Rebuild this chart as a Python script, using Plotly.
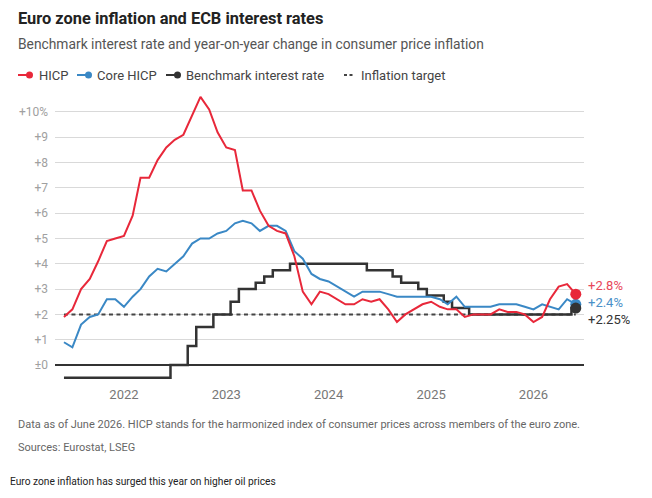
import pandas as pd
import plotly.graph_objects as go

# ---- data (monthly, June 2021 - June 2026) ----
months = pd.date_range("2021-06-01", "2026-06-01", freq="MS")

hicp = [1.9, 2.2, 3.0, 3.4, 4.1, 4.9, 5.0,
        5.1, 5.9, 7.4, 7.4, 8.1, 8.6, 8.9, 9.1, 9.9, 10.6, 10.1, 9.2,
        8.6, 8.5, 6.9, 6.9, 6.1, 5.5, 5.3, 5.2, 4.3, 2.9, 2.4, 2.9,
        2.8, 2.6, 2.4, 2.4, 2.6, 2.5, 2.6, 2.2, 1.7, 2.0, 2.2, 2.4,
        2.5, 2.3, 2.2, 2.2, 1.9, 2.0, 2.0, 2.0, 2.2, 2.1, 2.1, 2.0,
        1.7, 1.9, 2.6, 3.1, 3.2, 2.8]

core_hicp = [0.9, 0.7, 1.6, 1.9, 2.0, 2.6, 2.6,
             2.3, 2.7, 3.0, 3.5, 3.8, 3.7, 4.0, 4.3, 4.8, 5.0, 5.0, 5.2,
             5.3, 5.6, 5.7, 5.6, 5.3, 5.5, 5.5, 5.3, 4.5, 4.2, 3.6, 3.4,
             3.3, 3.1, 2.9, 2.7, 2.9, 2.9, 2.9, 2.8, 2.7, 2.7, 2.7, 2.7,
             2.7, 2.6, 2.4, 2.7, 2.3, 2.3, 2.3, 2.3, 2.4, 2.4, 2.4, 2.3,
             2.2, 2.4, 2.3, 2.2, 2.6, 2.4]

rate = [-0.5, -0.5, -0.5, -0.5, -0.5, -0.5, -0.5,
        -0.5, -0.5, -0.5, -0.5, -0.5, -0.5, 0.0, 0.0, 0.75, 1.5, 1.5, 2.0,
        2.0, 2.5, 3.0, 3.0, 3.25, 3.5, 3.75, 3.75, 4.0, 4.0, 4.0, 4.0,
        4.0, 4.0, 4.0, 4.0, 4.0, 3.75, 3.75, 3.75, 3.5, 3.25, 3.25, 3.0,
        2.75, 2.75, 2.5, 2.25, 2.25, 2.0, 2.0, 2.0, 2.0, 2.0, 2.0, 2.0,
        2.0, 2.0, 2.0, 2.0, 2.0, 2.25]

inflation_target = [2.0] * len(months)

y_tickvals = [0, 1, 2, 3, 4, 5, 6, 7, 8, 9, 10]
y_ticktext = ["±0", "+1", "+2", "+3", "+4", "+5", "+6", "+7", "+8", "+9", "+10%"]
x_tickvals = ["2022-01-01", "2023-01-01", "2024-01-01", "2025-01-01", "2026-01-01"]
x_ticktext = ["2022", "2023", "2024", "2025", "2026"]

RED = "#e8283a"
BLUE = "#3a88c5"
DARK = "#333333"
FONT = "Roboto"

# ---- layout geometry ----
W, H = 652, 498
L, R, T, B = 55, 68, 92, 113
PW, PH = W - L - R, H - T - B


def px(x):
    return (x - L) / PW


def py(y):
    return (H - B - y) / PH


fig = go.Figure()

fig.add_trace(go.Scatter(x=months, y=inflation_target, mode="lines",
                         line=dict(color="#444444", width=2, dash="4px,3.5px"),
                         hoverinfo="skip", showlegend=False))
fig.add_trace(go.Scatter(x=months, y=rate, mode="lines", line_shape="hvh",
                         line=dict(color=DARK, width=2.5), showlegend=False))
fig.add_trace(go.Scatter(x=months, y=core_hicp, mode="lines",
                         line=dict(color=BLUE, width=2), showlegend=False))
fig.add_trace(go.Scatter(x=months, y=hicp, mode="lines",
                         line=dict(color=RED, width=2), showlegend=False))

# end markers
for series, col in [(core_hicp, BLUE), (hicp, RED), (rate, DARK)]:
    fig.add_trace(go.Scatter(x=[months[-1]], y=[series[-1]], mode="markers",
                             marker=dict(color=col, size=11), cliponaxis=False,
                             showlegend=False))

# end labels
end_labels = [(hicp[-1], "+%.1f%%" % hicp[-1], "#e8475a", 9),
              (core_hicp[-1], "+%.1f%%" % core_hicp[-1], "#4a90c8", 2),
              (rate[-1], "+%.2f%%" % rate[-1], DARK, -11)]
for val, txt, col, ys in end_labels:
    fig.add_annotation(x=months[-1], y=val, xref="x", yref="y", text=txt,
                       showarrow=False, xanchor="left", yanchor="middle",
                       xshift=10, yshift=ys, font=dict(family=FONT, size=13, color=col))

# titles and notes
texts = [
    (16, 18, "<b>Euro zone inflation and ECB interest rates</b>", 16.4, "#222222"),
    (16, 44, "Benchmark interest rate and year-on-year change in consumer price inflation", 13.8, "#555555"),
    (16, 424, "Data as of June 2026. HICP stands for the harmonized index of consumer prices across members of the euro zone.", 11, "#666666"),
    (16, 447, "Sources: Eurostat, LSEG", 11, "#666666"),
    (8, 481, "Euro zone inflation has surged this year on higher oil prices", 10.2, "#222222"),
]
for x, y, t, s, c in texts:
    fig.add_annotation(x=px(x), y=py(y), xref="paper", yref="paper", text=t,
                       showarrow=False, xanchor="left", yanchor="middle",
                       font=dict(family=FONT, size=s, color=c))

# manual legend
legend_items = [(18, 37, "HICP", RED, "line"),
                (77, 95, "Core HICP", BLUE, "line"),
                (166, 184, "Benchmark interest rate", DARK, "line"),
                (344, 359, "Inflation target", "#444444", "dash")]
LY = 75
for x0, xt, label, col, kind in legend_items:
    if kind == "line":
        fig.add_shape(type="line", xref="paper", yref="paper",
                      x0=px(x0), x1=px(x0 + 12), y0=py(LY), y1=py(LY),
                      line=dict(color=col, width=2))
        fig.add_shape(type="circle", xref="paper", yref="paper",
                      x0=px(x0 + 8), x1=px(x0 + 15), y0=py(LY - 3.5), y1=py(LY + 3.5),
                      line=dict(color=col, width=0), fillcolor=col)
    else:
        fig.add_shape(type="line", xref="paper", yref="paper",
                      x0=px(x0), x1=px(x0 + 11), y0=py(LY), y1=py(LY),
                      line=dict(color=col, width=2, dash="3px,2.5px"))
    fig.add_annotation(x=px(xt), y=py(LY), xref="paper", yref="paper", text=label,
                       showarrow=False, xanchor="left", yanchor="middle",
                       font=dict(family=FONT, size=13, color="#444444"))

fig.update_layout(
    width=W, height=H,
    margin=dict(l=L, r=R, t=T, b=B, pad=0),
    paper_bgcolor="white", plot_bgcolor="white",
    showlegend=False,
    font=dict(family=FONT),
    xaxis=dict(type="date", range=["2021-04-30", "2026-06-30 07:00"],
               tickvals=x_tickvals, ticktext=x_ticktext, showgrid=False,
               zeroline=False, showline=False, ticks="",
               tickfont=dict(family=FONT, size=13, color="#777777")),
    yaxis=dict(range=[-0.79, 10.79], tickvals=y_tickvals, ticktext=y_ticktext,
               showgrid=True, gridcolor="#d9d9d9", gridwidth=1,
               zeroline=True, zerolinecolor="#333333", zerolinewidth=1.5,
               showline=False, ticks="", ticklabelstandoff=6,
               tickfont=dict(family=FONT, size=12, color="#a0a0a0")),
)

fig.write_html("out.html")
